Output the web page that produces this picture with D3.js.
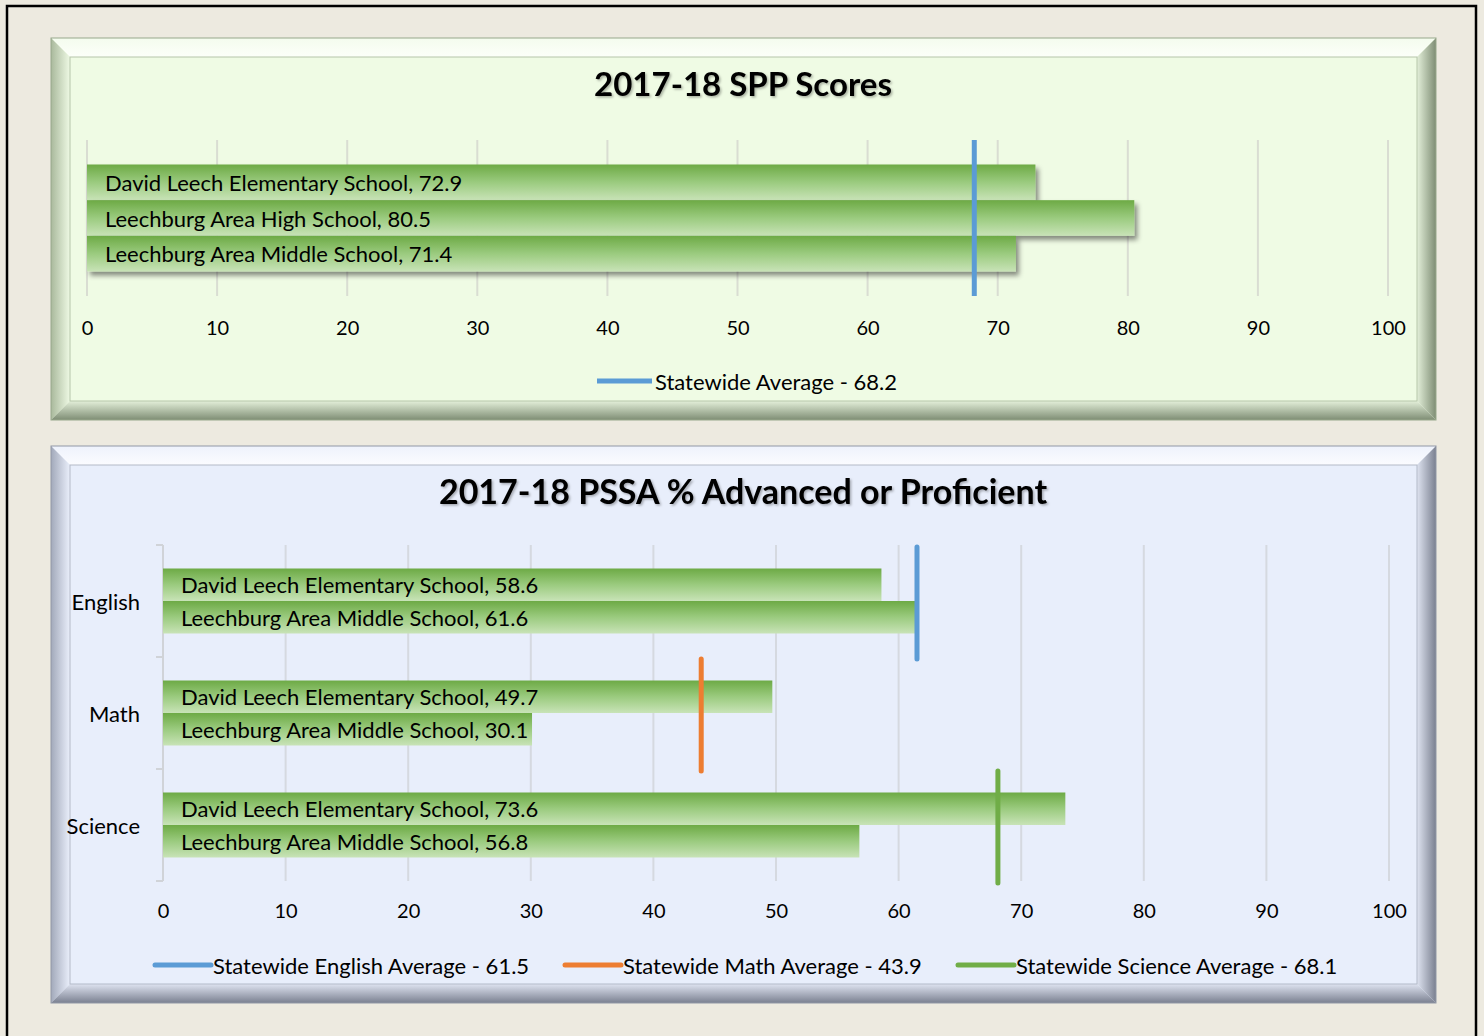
<!DOCTYPE html>
<html><head><meta charset="utf-8">
<script src="https://cdn.jsdelivr.net/npm/d3@7"></script>
<style>
html,body{margin:0;padding:0;background:#EDEAE0;}
svg{display:block;}
text{font-family:Lato,"Open Sans",sans-serif;fill:#000;}
</style></head>
<body><svg id="c" width="1484" height="1036"></svg>
<script>
// ---- data ----
const sppSchools = ["David Leech Elementary School", "Leechburg Area High School", "Leechburg Area Middle School"];
const sppScores = [72.9, 80.5, 71.4];
const sppAverage = 68.2;
const sppTitle = "2017-18 SPP Scores";
const sppLegend = "Statewide Average - 68.2";

const subjects = ["English", "Math", "Science"];
const pssaSchools = ["David Leech Elementary School", "Leechburg Area Middle School"];
const elementaryScores = [58.6, 49.7, 73.6];
const middleScores = [61.6, 30.1, 56.8];
const subjectAverages = [61.5, 43.9, 68.1];
const averageLabels = ["Statewide English Average - 61.5", "Statewide Math Average - 43.9", "Statewide Science Average - 68.1"];
const pssaTitle = "2017-18 PSSA % Advanced or Proficient";
const xTicks = [0, 10, 20, 30, 40, 50, 60, 70, 80, 90, 100];

// ---- drawing ----
const svg = d3.select("#c");
const defs = svg.append("defs");
const avgColors = ["#5B9BD5", "#ED7D31", "#70AD47"];

function lg(id, x2, y2, stops) {
  const g = defs.append("linearGradient").attr("id", id)
    .attr("x1", 0).attr("y1", 0).attr("x2", x2).attr("y2", y2);
  stops.forEach(s => g.append("stop").attr("offset", s[0]).attr("stop-color", s[1]));
}
lg("barGrad", 0, 1, [[0, "#6DAA45"], [0.5, "#9BCB7F"], [1, "#C8E3B7"]]);
const shadow = defs.append("filter").attr("id", "shadow").attr("x", "-5%").attr("y", "-30%").attr("width", "120%").attr("height", "180%");
shadow.append("feDropShadow").attr("dx", 3).attr("dy", 4).attr("stdDeviation", 2.5).attr("flood-color", "#000").attr("flood-opacity", 0.45);
const tshadow = defs.append("filter").attr("id", "tshadow").attr("x", "-5%").attr("y", "-20%").attr("width", "110%").attr("height", "150%");
tshadow.append("feDropShadow").attr("dx", 1.5).attr("dy", 1.5).attr("stdDeviation", 1).attr("flood-color", "#000").attr("flood-opacity", 0.3);

// page border
svg.append("rect").attr("x", 7).attr("y", 6).attr("width", 1469).attr("height", 1040)
  .attr("fill", "#EDEAE0").attr("stroke", "#000").attr("stroke-width", 2.5);

function panel(id, x0, y0, x1, y1, bw, bg, c) {
  lg(id + "T", 0, 1, [[0, c.top0], [1, c.top1]]);
  lg(id + "L", 1, 0, [[0, c.side0], [1, c.side1]]);
  lg(id + "R", 1, 0, [[0, c.r0], [1, c.r1]]);
  lg(id + "B", 0, 1, [[0, c.r0], [1, c.r1]]);
  const g = svg.append("g");
  g.append("rect").attr("x", x0).attr("y", y0).attr("width", x1 - x0).attr("height", y1 - y0).attr("fill", bg);
  const P = a => a.map(p => p.join(",")).join(" ");
  g.append("polygon").attr("points", P([[x0, y0], [x1, y0], [x1 - bw, y0 + bw], [x0 + bw, y0 + bw]])).attr("fill", `url(#${id}T)`);
  g.append("polygon").attr("points", P([[x0, y0], [x0 + bw, y0 + bw], [x0 + bw, y1 - bw], [x0, y1]])).attr("fill", `url(#${id}L)`);
  g.append("polygon").attr("points", P([[x1, y0], [x1, y1], [x1 - bw, y1 - bw], [x1 - bw, y0 + bw]])).attr("fill", `url(#${id}R)`);
  g.append("polygon").attr("points", P([[x0, y1], [x0 + bw, y1 - bw], [x1 - bw, y1 - bw], [x1, y1]])).attr("fill", `url(#${id}B)`);
  g.append("rect").attr("x", x0 + bw).attr("y", y0 + bw).attr("width", x1 - x0 - 2 * bw).attr("height", y1 - y0 - 2 * bw)
    .attr("fill", bg).attr("stroke", c.line).attr("stroke-width", 1);
  g.append("rect").attr("x", x0).attr("y", y0).attr("width", x1 - x0).attr("height", y1 - y0)
    .attr("fill", "none").attr("stroke", c.outer).attr("stroke-width", 1);
}

panel("p1", 51, 38, 1436, 420, 19, "#EFFBE4",
  {top0: "#F4FCEE", top1: "#FCFFF9", side0: "#A9B99C", side1: "#EEF9E4", r0: "#E3EFD9", r1: "#7E8D74", line: "#B6C6AA", outer: "#98A88C"});
panel("p2", 51, 446, 1436, 1003, 19, "#E8EEFB",
  {top0: "#EEF2FC", top1: "#FBFCFF", side0: "#A2A9BA", side1: "#EAEFFB", r0: "#DEE3F0", r1: "#7A8090", line: "#B3BAC8", outer: "#9298A6"});

// ---------- Chart 1 ----------
const x1 = d3.scaleLinear().domain([0, 100]).range([87, 1388]);
const p1Top = 140, p1Bot = 296;
const y1 = d3.scaleBand().domain(sppSchools).range([p1Top, p1Bot]).paddingInner(0).paddingOuter(0.687);
const c1 = svg.append("g");
c1.append("text").attr("x", 743).attr("y", 83).attr("text-anchor", "middle").attr("dominant-baseline", "central")
  .attr("font-size", 33).attr("font-weight", "bold").attr("filter", "url(#tshadow)").text(sppTitle);
c1.append("g").selectAll("line").data(xTicks).join("line")
  .attr("x1", d => x1(d)).attr("x2", d => x1(d)).attr("y1", p1Top).attr("y2", p1Bot)
  .attr("stroke", "#D9DDD2").attr("stroke-width", 2);
const bars1 = c1.append("g");
bars1.selectAll("rect").data(sppSchools).join("rect")
  .attr("x", x1(0)).attr("y", d => y1(d)).attr("width", (d, i) => x1(sppScores[i]) - x1(0)).attr("height", y1.bandwidth())
  .attr("fill", "url(#barGrad)").attr("filter", "url(#shadow)");
bars1.selectAll("text").data(sppSchools).join("text")
  .attr("x", x1(0) + 18).attr("y", d => y1(d) + y1.bandwidth() / 2).attr("dominant-baseline", "central")
  .attr("font-size", 22).text((d, i) => `${d}, ${sppScores[i]}`);
c1.append("line").attr("x1", x1(sppAverage)).attr("x2", x1(sppAverage)).attr("y1", p1Top).attr("y2", p1Bot)
  .attr("stroke", avgColors[0]).attr("stroke-width", 5);
const ax1 = c1.append("g").attr("transform", `translate(0,${p1Bot})`)
  .call(d3.axisBottom(x1).tickValues(xTicks).tickSize(0).tickPadding(25));
ax1.select(".domain").remove();
ax1.selectAll("text").attr("font-size", 20).attr("font-family", "Lato, sans-serif").attr("fill", "#000");
c1.append("line").attr("x1", 597).attr("x2", 652).attr("y1", 381).attr("y2", 381)
  .attr("stroke", avgColors[0]).attr("stroke-width", 5);
c1.append("text").attr("x", 655).attr("y", 381).attr("dominant-baseline", "central").attr("font-size", 22).text(sppLegend);

// ---------- Chart 2 ----------
const x2 = d3.scaleLinear().domain([0, 100]).range([163, 1389]);
const p2Top = 545, p2Bot = 881;
const y2 = d3.scaleBand().domain(subjects).range([p2Top, p2Bot]).padding(0);
const yInner = d3.scaleBand().domain(pssaSchools).range([0, y2.bandwidth()]).paddingInner(0).paddingOuter(0.723);
const c2 = svg.append("g");
c2.append("text").attr("x", 743).attr("y", 490).attr("text-anchor", "middle").attr("dominant-baseline", "central")
  .attr("font-size", 34).attr("font-weight", "bold").attr("filter", "url(#tshadow)").text(pssaTitle);
c2.append("g").selectAll("line").data(xTicks.slice(1)).join("line")
  .attr("x1", d => x2(d)).attr("x2", d => x2(d)).attr("y1", p2Top).attr("y2", p2Bot)
  .attr("stroke", "#D5D9E0").attr("stroke-width", 2);
// category axis
c2.append("line").attr("x1", x2(0)).attr("x2", x2(0)).attr("y1", p2Top).attr("y2", p2Bot).attr("stroke", "#D0D3D8").attr("stroke-width", 2);
c2.append("g").selectAll("line").data(subjects.concat(["end"])).join("line")
  .attr("x1", x2(0) - 7).attr("x2", x2(0)).attr("y1", (d, i) => p2Top + i * y2.step()).attr("y2", (d, i) => p2Top + i * y2.step())
  .attr("stroke", "#D0D3D8").attr("stroke-width", 2);
const series = [elementaryScores, middleScores];
const grp = c2.append("g").selectAll("g").data(subjects).join("g")
  .attr("transform", d => `translate(0,${y2(d)})`);
grp.selectAll("rect").data((d, i) => pssaSchools.map((s, k) => ({s, v: series[k][i]}))).join("rect")
  .attr("x", x2(0)).attr("y", d => yInner(d.s)).attr("width", d => x2(d.v) - x2(0)).attr("height", yInner.bandwidth())
  .attr("fill", "url(#barGrad)");
grp.selectAll("text.lbl").data((d, i) => pssaSchools.map((s, k) => ({s, v: series[k][i]}))).join("text")
  .attr("class", "lbl").attr("x", x2(0) + 18).attr("y", d => yInner(d.s) + yInner.bandwidth() / 2)
  .attr("dominant-baseline", "central").attr("font-size", 22).text(d => `${d.s}, ${d.v}`);
grp.append("line").attr("x1", (d, i) => x2(subjectAverages[i])).attr("x2", (d, i) => x2(subjectAverages[i]))
  .attr("y1", 2).attr("y2", y2.bandwidth() + 2)
  .attr("stroke", (d, i) => avgColors[i]).attr("stroke-width", 5).attr("stroke-linecap", "round");
grp.append("text").attr("x", 140).attr("y", y2.bandwidth() / 2).attr("text-anchor", "end")
  .attr("dominant-baseline", "central").attr("font-size", 22).text(d => d);
const ax2 = c2.append("g").attr("transform", `translate(0,${p2Bot})`)
  .call(d3.axisBottom(x2).tickValues(xTicks).tickSize(0).tickPadding(23));
ax2.select(".domain").remove();
ax2.selectAll("text").attr("font-size", 20).attr("font-family", "Lato, sans-serif").attr("fill", "#000");
const legX = [155, 565, 958];
const leg = c2.append("g").selectAll("g").data(averageLabels).join("g")
  .attr("transform", (d, i) => `translate(${legX[i]},965)`);
leg.append("line").attr("x1", 0).attr("x2", 56).attr("stroke", (d, i) => avgColors[i]).attr("stroke-width", 5).attr("stroke-linecap", "round");
leg.append("text").attr("x", 58).attr("dominant-baseline", "central").attr("font-size", 22).text(d => d);
</script></body></html>
